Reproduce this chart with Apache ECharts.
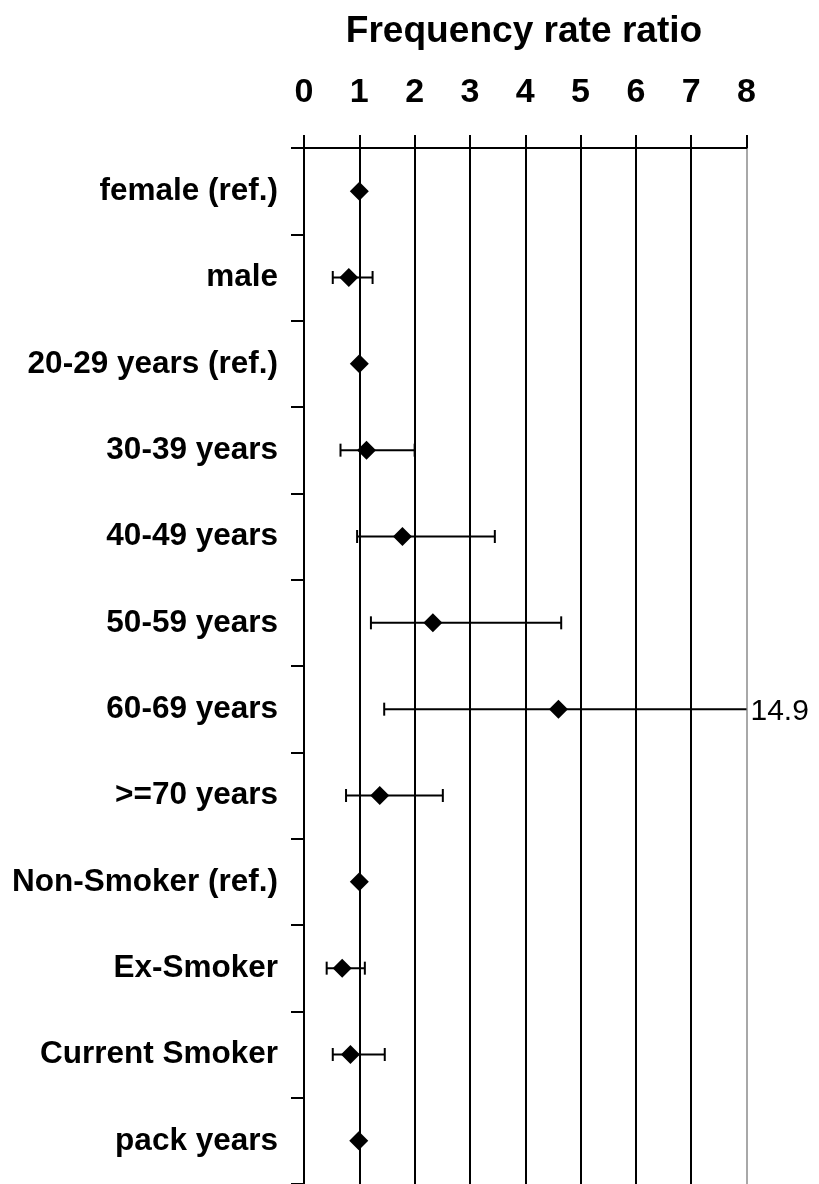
<!DOCTYPE html>
<html>
<head>
<meta charset="utf-8">
<title>Frequency rate ratio</title>
<script src="https://cdn.jsdelivr.net/npm/echarts@6/dist/echarts.min.js"></script>
<style>
  html, body { margin: 0; padding: 0; background: #ffffff; }
  #chart { width: 819px; height: 1184px; }
</style>
</head>
<body>
<div id="chart"></div>
<script>
// Frequency rate ratios with 95% confidence intervals, one row per group
const categories = [
  'female (ref.)', 'male',
  '20-29 years (ref.)', '30-39 years', '40-49 years', '50-59 years',
  '60-69 years', '>=70 years',
  'Non-Smoker (ref.)', 'Ex-Smoker', 'Current Smoker', 'pack years'
];
const ratio = [1.00, 0.81, 1.00, 1.13, 1.78, 2.33, 4.60, 1.37, 1.00, 0.69, 0.84, 0.99];
const lower = [null, 0.52, null, 0.66, 0.96, 1.21, 1.45, 0.76, null, 0.41, 0.52, null];
const upper = [null, 1.24, null, 2.00, 3.45, 4.65, 14.9, 2.51, null, 1.10, 1.46, null];
const xTicks = [0, 1, 2, 3, 4, 5, 6, 7, 8];
const titleText = 'Frequency rate ratio';

const AXIS_MAX = xTicks[xTicks.length - 1];
const FONT = '"Liberation Sans", Arial, sans-serif';

const pointData = ratio.map((v, i) => [v, i]);
const ciData = [];
lower.forEach((lo, i) => {
  if (lo !== null && upper[i] !== null) ciData.push([i, lo, upper[i]]);
});

// Horizontal whisker with end caps; an interval running past the axis
// is cut at the axis edge and its upper bound written beside it.
function renderCI(params, api) {
  const idx = api.value(0);
  const lo = api.value(1);
  const hi = api.value(2);
  const clipped = hi > AXIS_MAX;
  const p0 = api.coord([lo, idx]);
  const p1 = api.coord([clipped ? AXIS_MAX : hi, idx]);
  const cap = 6.5;
  const style = { stroke: '#000', lineWidth: 2 };
  const children = [
    { type: 'line', shape: { x1: p0[0], y1: p0[1], x2: p1[0], y2: p1[1] }, style },
    { type: 'line', shape: { x1: p0[0], y1: p0[1] - cap, x2: p0[0], y2: p0[1] + cap }, style }
  ];
  if (clipped) {
    children.push({
      type: 'text',
      x: p1[0] + 4, y: p1[1] + 3,
      style: {
        text: String(hi), x: 0, y: 0,
        align: 'left', verticalAlign: 'middle',
        fill: '#000', fontFamily: FONT, fontSize: 30
      }
    });
  } else {
    children.push({ type: 'line', shape: { x1: p1[0], y1: p1[1] - cap, x2: p1[0], y2: p1[1] + cap }, style });
  }
  return { type: 'group', children };
}

const chart = echarts.init(document.getElementById('chart'), null, { renderer: 'canvas' });

const gridColors = xTicks.map((t, i) => (i === xTicks.length - 1 ? '#a8a8a8' : '#000000'));

chart.setOption({
  animation: false,
  backgroundColor: '#ffffff',
  graphic: [{
    type: 'text',
    x: 524, y: 32,
    scaleX: 1.03,
    style: {
      text: titleText, x: 0, y: 0,
      align: 'center', verticalAlign: 'middle',
      fill: '#000', fontFamily: FONT, fontWeight: 'bold', fontSize: 36
    }
  }],
  grid: { left: 304, right: 72.5, top: 148, height: 1037, containLabel: false },
  xAxis: {
    type: 'value',
    position: 'top',
    min: xTicks[0],
    max: AXIS_MAX,
    interval: 1,
    axisLine: { show: true, lineStyle: { color: '#000', width: 2 } },
    axisTick: { show: true, length: 13, lineStyle: { color: '#000', width: 2 } },
    axisLabel: {
      margin: 38,
      color: '#000',
      fontFamily: FONT,
      fontWeight: 'bold',
      fontSize: 34
    },
    splitLine: { show: true, lineStyle: { color: gridColors, width: 2 } }
  },
  yAxis: {
    type: 'category',
    inverse: true,
    data: categories,
    axisLine: { show: true, lineStyle: { color: '#000', width: 2 } },
    axisTick: { show: true, length: 13, lineStyle: { color: '#000', width: 2 } },
    axisLabel: {
      margin: 26,
      color: '#000',
      fontFamily: FONT,
      fontWeight: 'bold',
      fontSize: 31.5
    },
    splitLine: { show: false }
  },
  series: [
    {
      type: 'custom',
      renderItem: renderCI,
      data: ciData,
      encode: { x: [1, 2], y: 0 },
      clip: false,
      z: 3
    },
    {
      type: 'scatter',
      data: pointData,
      symbol: 'diamond',
      symbolSize: 19,
      itemStyle: { color: '#000', opacity: 1 },
      z: 4
    }
  ]
});
</script>
</body>
</html>
